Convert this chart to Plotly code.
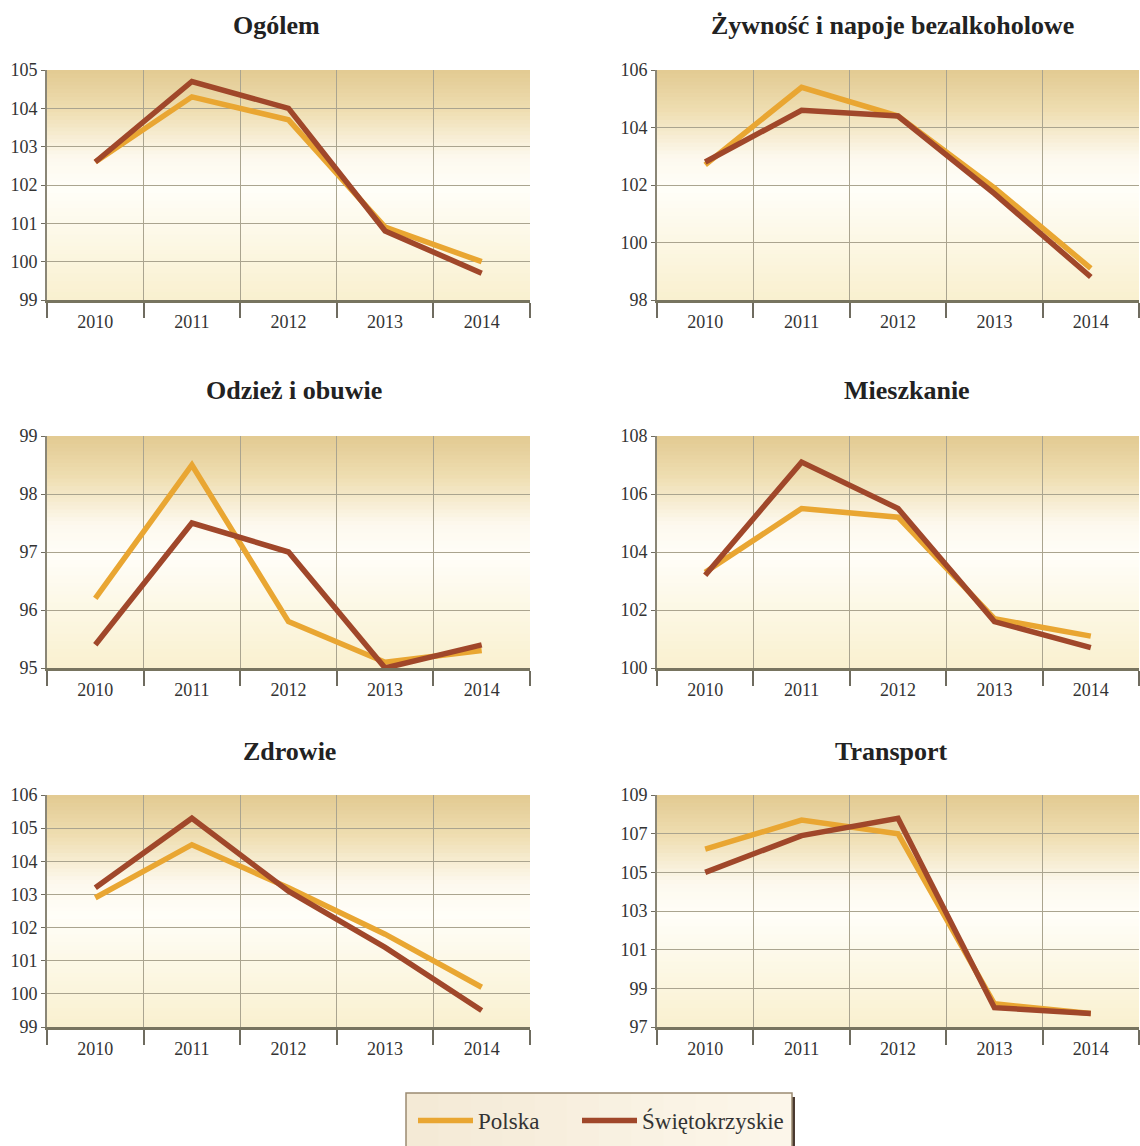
import plotly.graph_objects as go

years = ["2010", "2011", "2012", "2013", "2014"]
titles = ["Ogólem", "Żywność i napoje bezalkoholowe", "Odzież i obuwie",
          "Mieszkanie", "Zdrowie", "Transport"]
polska = [
    [102.6, 104.3, 103.7, 100.9, 100.0],
    [102.7, 105.4, 104.4, 101.9, 99.1],
    [96.2, 98.5, 95.8, 95.1, 95.3],
    [103.3, 105.5, 105.2, 101.7, 101.1],
    [102.9, 104.5, 103.2, 101.8, 100.2],
    [106.2, 107.7, 107.0, 98.2, 97.7],
]
swietokrzyskie = [
    [102.6, 104.7, 104.0, 100.8, 99.7],
    [102.8, 104.6, 104.4, 101.7, 98.8],
    [95.4, 97.5, 97.0, 95.0, 95.4],
    [103.2, 107.1, 105.5, 101.6, 100.7],
    [103.2, 105.3, 103.1, 101.4, 99.5],
    [105.0, 106.9, 107.8, 98.0, 97.7],
]
y_ranges = [[99, 105], [98, 106], [95, 99], [100, 108], [99, 106], [97, 109]]
y_dticks = [1, 2, 1, 2, 1, 2]

W, H = 1140, 1146
col_x = [(47, 530), (657, 1139)]
row_y = [(70, 300), (436, 668), (795, 1027)]
title_y = [25, 391, 751]
title_x = [276, 892, 294, 907, 289, 891]

C_POL = "#E9A632"
C_SW = "#A0472A"
FONT = "Liberation Serif"

fig = go.Figure()
layout = dict(width=W, height=H, margin=dict(l=0, r=0, t=0, b=0, autoexpand=False),
              paper_bgcolor="white", plot_bgcolor="rgba(0,0,0,0)",
              showlegend=True)

# gradient stops (fraction from top, rgb)
stops = [(0.0, (226, 202, 145)), (0.18, (239, 222, 178)), (0.38, (253, 249, 238)),
         (0.52, (255, 254, 248)), (1.0, (249, 240, 207))]


def grad_color(t):
    for (t0, c0), (t1, c1) in zip(stops[:-1], stops[1:]):
        if t0 <= t <= t1:
            f = (t - t0) / (t1 - t0) if t1 > t0 else 0
            return "rgb(%d,%d,%d)" % tuple(round(a + (b - a) * f) for a, b in zip(c0, c1))
    return "rgb(%d,%d,%d)" % stops[-1][1]


shapes = []
annotations = []
NB = 60
for i in range(6):
    r, c = divmod(i, 2)
    x0, x1 = col_x[c]
    yt, yb = row_y[r]
    n = i + 1
    xs = "" if n == 1 else str(n)
    layout["xaxis" + xs] = dict(
        domain=[x0 / W, x1 / W], anchor="y" + xs, type="category",
        range=[-0.5, 4.5], tickson="boundaries", ticks="outside", ticklen=15,
        tickwidth=2, tickcolor="#6f6c60", ticklabelstandoff=3,
        showgrid=True, gridcolor="#aaa48f", gridwidth=1,
        showline=True, linecolor="#77745f", linewidth=3,
        tickfont=dict(family=FONT, size=18, color="#333333"), fixedrange=True)
    layout["yaxis" + xs] = dict(
        domain=[1 - yb / H, 1 - yt / H], anchor="x" + xs,
        range=y_ranges[i], dtick=y_dticks[i], tick0=y_ranges[i][0],
        ticks="outside", ticklen=4, tickcolor="#6f6c60", tickwidth=1,
        showgrid=True, gridcolor="#aaa48f", gridwidth=1, zeroline=False,
        showline=True, linecolor="#8a8676", linewidth=2,
        tickfont=dict(family=FONT, size=18, color="#333333"), fixedrange=True)
    for k in range(NB):
        t0 = k / NB
        t1 = min(1.0, (k + 1.6) / NB)
        shapes.append(dict(type="rect", xref="x%s domain" % xs, yref="y%s domain" % xs,
                           x0=0, x1=1, y0=1 - t1, y1=1 - t0, line=dict(width=0),
                           fillcolor=grad_color((k + 0.5) / NB), layer="below"))
    annotations.append(dict(text="<b>%s</b>" % titles[i], x=title_x[i] / W, y=1 - title_y[r] / H,
                            xref="paper", yref="paper", showarrow=False,
                            font=dict(family=FONT, size=26, color="#222222"),
                            xanchor="center", yanchor="middle"))
    fig.add_trace(go.Scatter(x=years, y=polska[i], mode="lines", name="Polska",
                             line=dict(color=C_POL, width=5.5), xaxis="x" + xs, yaxis="y" + xs,
                             showlegend=(i == 0), legendgroup="pol", legend="legend"))
    fig.add_trace(go.Scatter(x=years, y=swietokrzyskie[i], mode="lines", name="Świętokrzyskie",
                             line=dict(color=C_SW, width=5.5), xaxis="x" + xs, yaxis="y" + xs,
                             showlegend=(i == 0), legendgroup="sw", legend="legend2"))

# legend box (shadow + gradient fill + border)
lx0, lx1, ly0, ly1 = 406, 792, 1093, 1152
shapes.append(dict(type="rect", xref="paper", yref="paper", x0=(lx1) / W, x1=(lx1 + 3) / W,
                   y0=1 - ly1 / H, y1=1 - (ly0 + 4) / H, line=dict(width=0),
                   fillcolor="#4a3a30", layer="below"))
NL = 12
for k in range(NL):
    f = k / (NL - 1)
    col = "rgb(%d,%d,%d)" % (round(244 + 8 * f), round(234 + 12 * f), round(214 + 20 * f))
    shapes.append(dict(type="rect", xref="paper", yref="paper",
                       x0=(lx0 + (lx1 - lx0) * k / NL) / W,
                       x1=(lx0 + (lx1 - lx0) * min(NL, k + 1.5) / NL) / W,
                       y0=1 - ly1 / H, y1=1 - ly0 / H, line=dict(width=0),
                       fillcolor=col, layer="below"))
shapes.append(dict(type="rect", xref="paper", yref="paper", x0=lx0 / W, x1=lx1 / W,
                   y0=1 - ly1 / H, y1=1 - ly0 / H, line=dict(color="#9a8b72", width=1.5),
                   fillcolor="rgba(0,0,0,0)", layer="below"))

layout["shapes"] = shapes
layout["annotations"] = annotations
leg_common = dict(orientation="h", xanchor="left", y=1 - 1099 / H,
                  yanchor="top", bgcolor="rgba(0,0,0,0)", borderwidth=0,
                  itemwidth=55, font=dict(family=FONT, size=23, color="#333333"))
layout["legend"] = dict(x=413 / W, **leg_common)
layout["legend2"] = dict(x=577 / W, **leg_common)
fig.update_layout(**layout)
fig.write_html("out.html", config={"displayModeBar": False},
               post_script="document.body.style.margin='0';document.body.style.overflow='hidden';")
